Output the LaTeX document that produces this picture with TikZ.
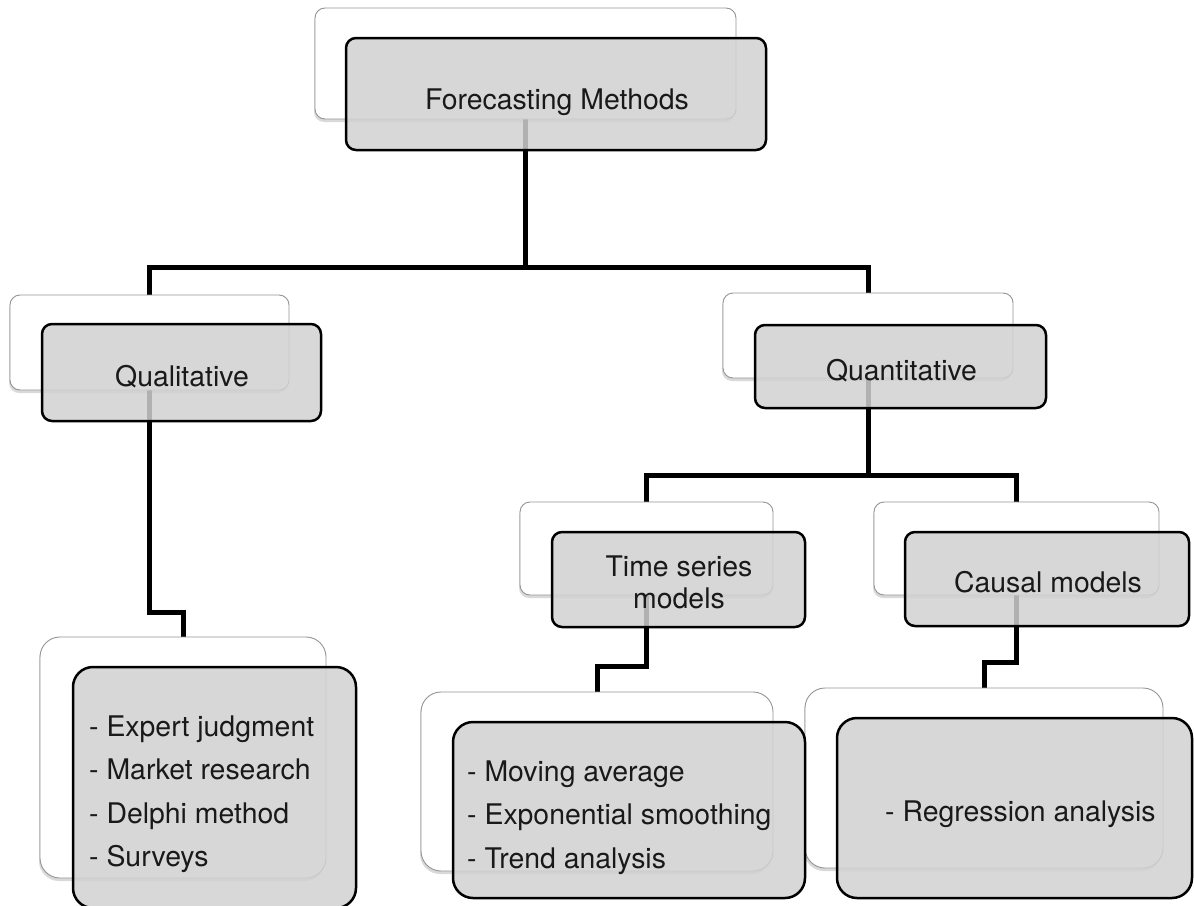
\documentclass[tikz,border=0pt]{standalone}
\usepackage{fontspec}
\setmainfont{TeX Gyre Heros}
\usetikzlibrary{shadows}
\pgfdeclarelayer{links}
\pgfsetlayers{links,main}

\begin{document}
\begin{tikzpicture}[x=1pt,y=-1pt,
  backbox/.style={draw=black!42, line width=0.9pt, fill=white, rounded corners=10pt,
    drop shadow={shadow xshift=-1pt, shadow yshift=-3pt, opacity=0.15, fill=black},
    inner sep=0pt, outer sep=0pt},
  frontbox/.style={draw=black, line width=2.5pt, fill=black!18, fill opacity=0.85,
    draw opacity=1, rounded corners=10pt, inner sep=0pt, outer sep=0pt},
  bigback/.style={backbox, rounded corners=20pt},
  bigfront/.style={frontbox, rounded corners=20pt},
  boxtext/.style={text=black!90, font=\fontsize{28.4}{32}\selectfont, inner sep=0pt},
  listtext/.style={boxtext, align=left, font=\fontsize{28.4}{43.5}\selectfont},
  conn/.style={line width=5pt, draw=black}
]
\useasboundingbox (0,0) rectangle (1194,905);

% back cards
\node[backbox, minimum width=421pt, minimum height=111pt] (rootB)  at (525.5,63.5) {};
\node[backbox, minimum width=279pt, minimum height=95pt]  (qualB)  at (149.5,342.5) {};
\node[backbox, minimum width=290pt, minimum height=85pt]  (quantB) at (868,335.5) {};
\node[backbox, minimum width=253pt, minimum height=93pt]  (tsB)    at (646.5,548.5) {};
\node[backbox, minimum width=285pt, minimum height=93pt]  (causB)  at (1016.5,548.5) {};
\node[bigback, minimum width=286pt, minimum height=241pt] (qlB)    at (183,757.5) {};
\node[bigback, minimum width=352pt, minimum height=179pt] (tlB)    at (597,781.5) {};
\node[bigback, minimum width=358pt, minimum height=180pt] (clB)    at (984,778) {};

% front cards
\node[frontbox, minimum width=420pt, minimum height=112pt] (rootF)  at (556,94) {};
\node[frontbox, minimum width=279pt, minimum height=97pt]  (qualF)  at (181.5,372.5) {};
\node[frontbox, minimum width=291pt, minimum height=83pt]  (quantF) at (900.5,366.5) {};
\node[frontbox, minimum width=253pt, minimum height=95pt]  (tsF)    at (678.5,579.5) {};
\node[frontbox, minimum width=284pt, minimum height=94pt]  (causF)  at (1047,579) {};
\node[bigfront, minimum width=283pt, minimum height=241pt] (qlF)    at (214.5,787.5) {};
\node[bigfront, minimum width=352pt, minimum height=176pt] (tlF)    at (629,810) {};
\node[bigfront, minimum width=355pt, minimum height=180pt] (clF)    at (1014.5,808) {};

% labels
\node[boxtext, anchor=base] (rootT)  at (557,109) {Forecasting Methods};
\node[boxtext, anchor=base] (qualT)  at (182,386) {Qualitative};
\node[boxtext, anchor=base] (quantT) at (901.5,380) {Quantitative};
\node[boxtext, anchor=north, align=center] (tsT) at (679,555.5) {Time series\\models};
\node[boxtext, anchor=base] (causT)  at (1048,592) {Causal models};
\node[listtext, anchor=north west] (qlT) at (89,715.5)
  {- Expert judgment\\- Market research\\- Delphi method\\- Surveys};
\node[listtext, anchor=north west] (tlT) at (467,760.5)
  {- Moving average\\- Exponential smoothing\\- Trend analysis};
\node[boxtext, anchor=base west] (clT) at (885,821) {- Regression analysis};

% tree connectors, drawn beneath the cards
\begin{pgfonlayer}{links}
\draw[conn] (rootB.south) -- (rootB.south |- 0,267);
\draw[conn] (qualB.north) -- (qualB.north |- 0,267) -- (quantB.north |- 0,267) -- (quantB.north);
\draw[conn] (qualB.south) -- (qualB.south |- 0,612) -| (qlB.north);
\draw[conn] (quantB.south) -- (quantB.south |- 0,475);
\draw[conn] (tsB.north) -- (tsB.north |- 0,475) -- (causB.north |- 0,475) -- (causB.north);
\draw[conn] (tsB.south) -- (tsB.south |- 0,666) -| (tlB.north);
\draw[conn] (causB.south) -- (causB.south |- 0,662) -| (clB.north);
\end{pgfonlayer}
\end{tikzpicture}
\end{document}
